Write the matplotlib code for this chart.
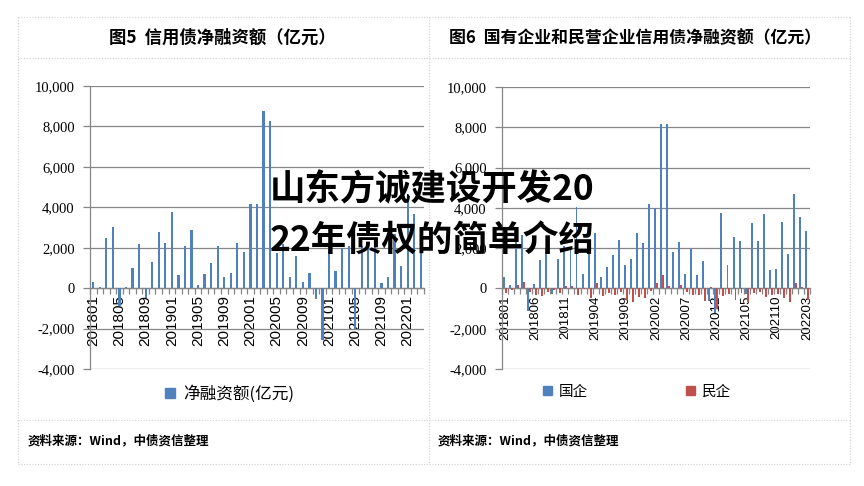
import matplotlib
matplotlib.use("Agg")
import matplotlib.pyplot as plt
from matplotlib.patches import Patch
from matplotlib.lines import Line2D
from matplotlib.ticker import FuncFormatter, FixedLocator
import numpy as np

plt.rcParams['axes.unicode_minus'] = False
plt.rcParams['font.family'] = ['Noto Sans CJK SC', 'DejaVu Sans']

# ---------------- data ----------------
months = [f"{y}{m:02d}" for y in range(2018, 2023) for m in range(1, 13)][:51]

net_financing = [280, 40, 2500, 3000, -900, 50, 1000, 2200, -500, 1300,
                 2800, 2250, 3750, 650, 2100, 2900, 160, 700, 1250, 2100,
                 550, 750, 2250, 1800, 4150, 4150, 8750, 8250, 1750, 2200,
                 540, 1580, 290, 730, -540, -2550, 2100, 830, 1970, 2100,
                 -2000, 2100, 2300, 2300, 260, 540, 2700, 1090, 4650, 3650,
                 2050]

soe = [580, 170, 2300, 2650, -1100, 220, 1420, 2000, -300, 1480,
       2100, 2000, 4050, 700, 2200, 2730, 580, 1080, 1660, 2420,
       1150, 1480, 2730, 2270, 4200, 3980, 8150, 8150, 1820, 2320,
       720, 1980, 670, 1370, -600, -1200, 3750, 1170, 2570, 2370,
       -300, 3250, 2350, 3700, 920, 950, 3300, 1720, 4700, 3570,
       2870]

private = [-220, -100, 150, 300, -200, -330, -380, -200, -100, -250,
           100, 100, -350, -50, -500, 250, -400, -250, -350, -200,
           -580, -650, -450, -500, -150, 280, 650, 100, 0, 180,
           -200, -350, -350, -620, 60, -1000, -400, -300, -550, -250,
           -650, -250, -200, -450, -350, -300, -500, -650, 250, 50,
           -550]

left_title = "图5  信用债净融资额（亿元）"
right_title = "图6  国有企业和民营企业信用债净融资额（亿元）"
source_text = "资料来源：Wind，中债资信整理"
left_legend = "净融资额(亿元)"
right_legends = ["国企", "民企"]
overlay_lines = ["山东方诚建设开发20", "22年债权的简单介绍"]

BLUE = "#4F81BD"
RED = "#C0504D"
GRID = "#868686"

W, H = 864, 486
fig = plt.figure(figsize=(W / 100, H / 100), dpi=100)
fig.patch.set_facecolor("white")


def fx(px):
    return px / W


def fy(py):
    return (H - py) / H


# frame lines (dotted light grey)
bc = "#d0d0d0"
for (x0, y0, x1, y1) in [(18, 17, 850, 17), (18, 58, 850, 58), (18, 420, 850, 420),
                         (18, 464, 850, 464), (18, 17, 18, 464), (429, 17, 429, 464),
                         (850, 17, 850, 464)]:
    fig.add_artist(Line2D([fx(x0), fx(x1)], [fy(y0), fy(y1)], color=bc, lw=0.8,
                          linestyle=(0, (1, 1.5)), transform=fig.transFigure))


def style_axes(ax, step, label_size, tick_pad_px):
    x = np.arange(len(months))
    ax.set_xlim(-0.5, len(months) - 0.5)
    ax.set_ylim(-4000, 10000)
    ax.set_yticks(np.arange(-4000, 10001, 2000))
    ax.yaxis.set_major_formatter(FuncFormatter(lambda v, p: f"{v:,.0f}"))
    for lab in ax.get_yticklabels():
        lab.set_family(["Liberation Serif"])
        lab.set_fontsize(10.5)
    ax.tick_params(axis='y', length=5, color=GRID, width=0.9, pad=6)
    ax.yaxis.grid(True, color=GRID, linewidth=0.9)
    ax.set_axisbelow(True)
    for s in ['top', 'right']:
        ax.spines[s].set_visible(False)
    ax.spines['left'].set_color(GRID)
    ax.spines['left'].set_linewidth(0.9)
    ax.spines['bottom'].set_position(('data', 0))
    ax.spines['bottom'].set_color(GRID)
    ax.spines['bottom'].set_linewidth(0.9)
    ax.set_xticks(x[::step])
    ax.set_xticklabels(months[::step], rotation=90, family=["Liberation Sans"],
                       fontsize=label_size, va='top', ha='center')
    ax.tick_params(axis='x', which='major', length=0, pad=tick_pad_px)
    ax.xaxis.set_minor_locator(FixedLocator(np.arange(-0.5, len(months), 1)))
    ax.tick_params(axis='x', which='minor', length=4, color=GRID, width=0.9,
                   direction='out')
    ax.set_facecolor("none")


# ---------------- left chart ----------------
axL = fig.add_axes([fx(90), fy(369), fx(424) - fx(90), fy(86) - fy(369)])
xL = np.arange(len(months))
axL.bar(xL, net_financing, width=0.34, color=BLUE, zorder=3)
style_axes(axL, 4, 11, 5)

fig.text(fx(222), fy(38), left_title, ha='center', va='center', fontsize=12.5,
         fontweight='bold', color='black')
hL = [Patch(facecolor=BLUE, edgecolor=BLUE, label=left_legend)]
fig.legend(handles=hL, loc='center', bbox_to_anchor=(fx(230), fy(394)), frameon=False,
           handlelength=0.6, handleheight=0.6, handletextpad=0.5,
           prop={'family': ['Noto Sans CJK SC'], 'size': 12})
fig.text(fx(28), fy(441), source_text, ha='left', va='center', fontsize=9,
         fontweight='bold', color='black')

# ---------------- right chart ----------------
axR = fig.add_axes([fx(502), fy(369), fx(810) - fx(502), fy(87) - fy(369)])
xR = np.arange(len(months))
axR.bar(xR - 0.16, soe, width=0.32, color=BLUE, zorder=3)
axR.bar(xR + 0.16, private, width=0.32, color=RED, zorder=3)
style_axes(axR, 5, 9.5, 5)

fig.text(fx(635), fy(38), right_title, ha='center', va='center', fontsize=12.2,
         fontweight='bold', color='black')
hR = [Patch(facecolor=BLUE, edgecolor=BLUE, label=right_legends[0]),
      Patch(facecolor=RED, edgecolor=RED, label=right_legends[1])]
fig.legend(handles=hR, loc='center', bbox_to_anchor=(fx(637), fy(392)), frameon=False,
           ncol=2, columnspacing=6.7, handlelength=0.6, handleheight=0.6,
           handletextpad=0.5, prop={'family': ['Noto Sans CJK SC'], 'size': 10.5})
fig.text(fx(438), fy(441), source_text, ha='left', va='center', fontsize=9,
         fontweight='bold', color='black')

# ---------------- overlay title ----------------
fig.text(fx(270), fy(190), overlay_lines[0], ha='left', va='center', fontsize=25.5,
         fontweight='heavy', color='black', zorder=10)
fig.text(fx(270), fy(240), overlay_lines[1], ha='left', va='center', fontsize=25.5,
         fontweight='heavy', color='black', zorder=10)

fig.savefig("out.png", dpi=100, facecolor="white")
